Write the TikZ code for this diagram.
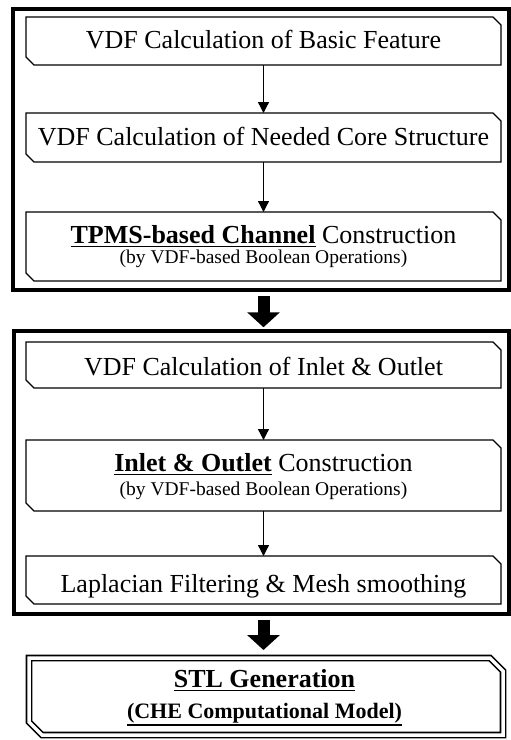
\documentclass[tikz,border=0pt]{standalone}
\usepackage{fontspec}
\setmainfont{Liberation Serif}
\usetikzlibrary{arrows.meta}
\newcommand{\ulbox}[2]{\setbox0\hbox{#2}\rlap{\rule[-#1]{\wd0}{1.2pt}}\box0\relax}
\newcommand{\drawchamf}[3]{%
  \draw[#3] (#1.north west) -- ([xshift=-#2]#1.north east) -- ([yshift=-#2]#1.north east)
    -- (#1.south east) -- ([xshift=#2]#1.south west) -- ([yshift=#2]#1.south west) -- cycle;}
\begin{document}
\begin{tikzpicture}[x=1pt,y=-1pt,
  boxnode/.style={rectangle, minimum width=475pt, inner sep=0pt, outer sep=0pt},
  boxline/.style={line width=1.4pt, line join=miter},
  stlline/.style={double, double distance=3.5pt, line width=1.6pt, line join=miter},
  frame/.style={draw, line width=3.5pt, inner sep=0pt},
  thinarrow/.style={-{Triangle[length=11pt,width=11pt]}, line width=1.3pt},
  bigarrow/.style={-{Triangle[length=15pt,width=32pt]}, line width=12pt},
  txt/.style={anchor=base, inner sep=0pt, font=\fontsize{26}{30}\selectfont},
  subtxt/.style={anchor=base, inner sep=0pt, font=\fontsize{19.5}{23}\selectfont},
  stlsub/.style={anchor=base, inner sep=0pt, font=\fontsize{22}{26}\selectfont\bfseries}]
\fill[white] (0,0) rectangle (511,740);
\useasboundingbox (0,0) rectangle (511,740);

% frames
\node[frame, minimum width=496pt, minimum height=281pt] (f1) at (261,149.5) {};
\node[frame, minimum width=495pt, minimum height=283pt] (f2) at (261.5,472.5) {};

% boxes
\node[boxnode, minimum height=48pt] (b1) at (263.5,41) {};
\node[boxnode, minimum height=49pt] (b2) at (263.5,137.5) {};
\node[boxnode, minimum height=69pt] (b3) at (263.5,246.5) {};
\node[boxnode, minimum height=46pt] (b4) at (263.5,365) {};
\node[boxnode, minimum height=71pt] (b5) at (263.5,475.5) {};
\node[boxnode, minimum height=48pt] (b6) at (263.5,580) {};
\node[rectangle, minimum width=474pt, minimum height=77pt, inner sep=0pt, outer sep=0pt] (stl) at (266,696.5) {};

\drawchamf{b1}{8pt}{boxline}
\drawchamf{b2}{8pt}{boxline}
\drawchamf{b3}{8pt}{boxline}
\drawchamf{b4}{8pt}{boxline}
\drawchamf{b5}{8pt}{boxline}
\drawchamf{b6}{8pt}{boxline}
\drawchamf{stl}{13pt}{stlline}

% texts
\node[txt] (t1) at (263.5,48) {VDF Calculation of Basic Feature};
\node[txt] (t2) at (263.5,145) {VDF Calculation of Needed Core Structure};
\node[txt] (t3) at (263.5,243) {\ulbox{4pt}{\bfseries TPMS-based Channel} Construction};
\node[subtxt] (s3) at (263.5,263) {(by VDF-based Boolean Operations)};
\node[txt] (t4) at (263.5,375) {VDF Calculation of Inlet \& Outlet};
\node[txt] (t5) at (263.5,471) {\ulbox{4pt}{\bfseries Inlet \& Outlet} Construction};
\node[subtxt] (s5) at (263.5,495) {(by VDF-based Boolean Operations)};
\node[txt] (t6) at (263.5,592) {Laplacian Filtering \& Mesh smoothing};
\node[txt] (t7) at (264.5,687) {\ulbox{4pt}{\bfseries STL Generation}};
\node[stlsub] (s7) at (264.5,718) {\ulbox{7.5pt}{(CHE Computational Model)}};

% connectors
\draw[thinarrow] (b1.south) -- (b2.north);
\draw[thinarrow] (b2.south) -- (b3.north);
\draw[thinarrow] (b4.south) -- (b5.north);
\draw[thinarrow] (b5.south) -- (b6.north);
\draw[bigarrow, shorten <=4pt, shorten >=2pt] (b3.south |- f1.south) -- (b4.north |- f2.north);
\draw[bigarrow, shorten <=4pt, shorten >=8pt] (b6.south |- f2.south) -- (b6.south |- stl.north);
\end{tikzpicture}
\end{document}
